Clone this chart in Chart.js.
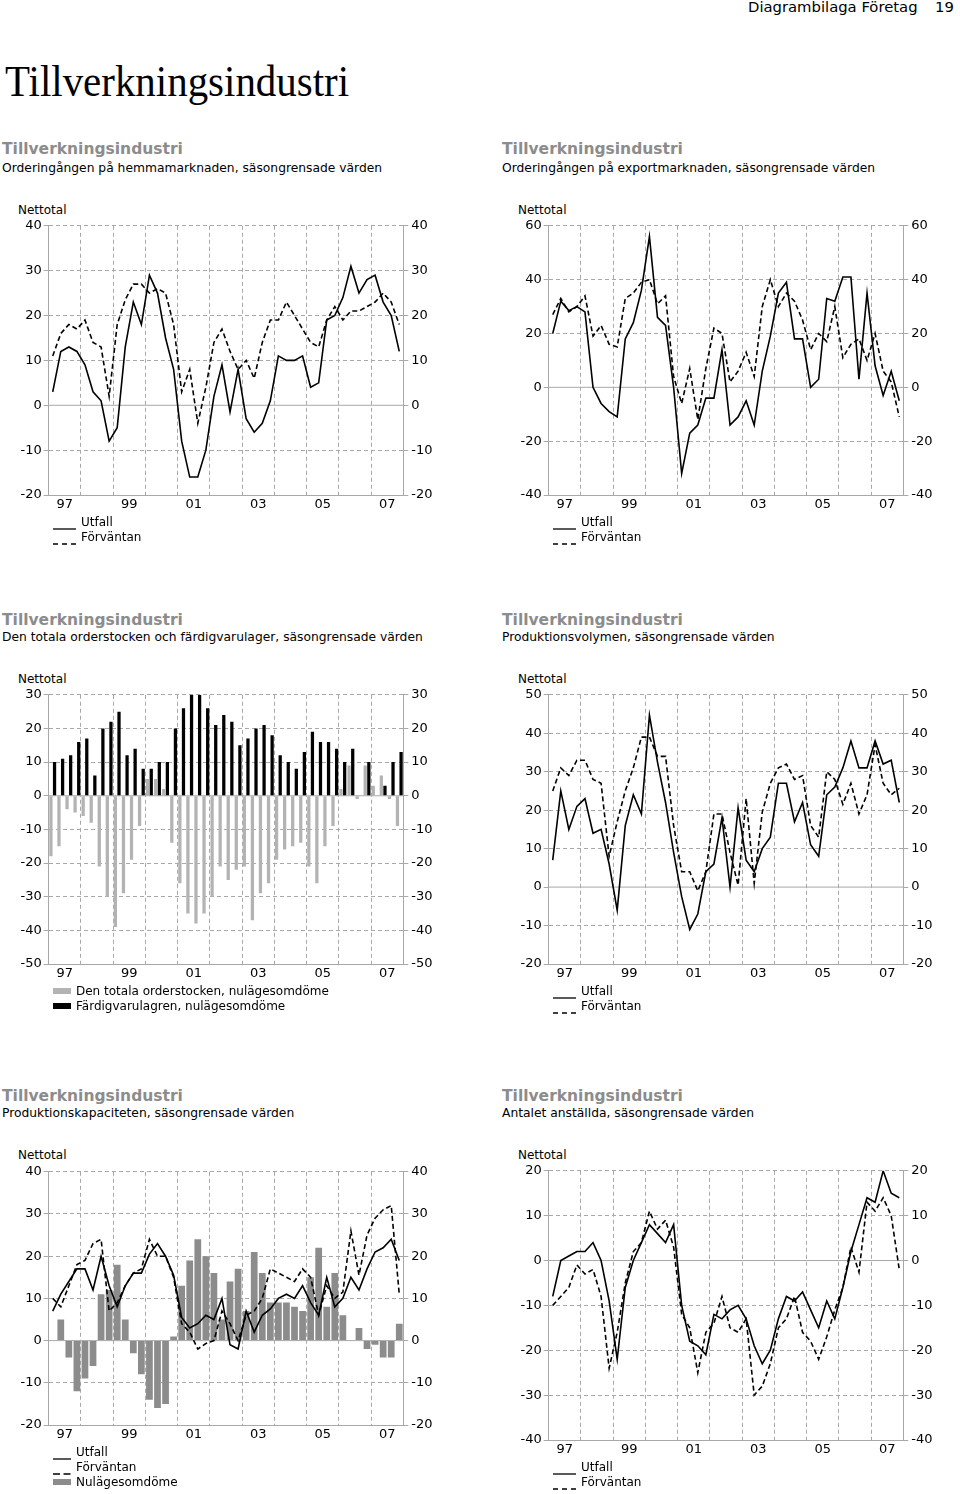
<!DOCTYPE html>
<html>
<head>
<meta charset="utf-8">
<script src="https://cdn.jsdelivr.net/npm/chart.js@4.4.0/dist/chart.umd.min.js"></script>
<style>
  body { margin: 0; width: 960px; height: 1494px; position: relative; background: #fff; overflow: hidden;
         font-family: 'DejaVu Sans', sans-serif; color: #000; }
  .t { position: absolute; white-space: nowrap; line-height: 1; }
  .head { font-size: 14.8px; }
  .big { font-family: 'Liberation Serif', serif; font-size: 44px; transform: scaleX(0.93); transform-origin: left top; }
  .sup { font-size: 15.5px; font-weight: bold; color: #8c8c8c; }
  .sub { font-size: 12.3px; }
  .small { font-size: 12px; }
  canvas { position: absolute; }
</style>
</head>
<body>

<div class="t head" style="left:748px; top:0px;">Diagrambilaga Företag</div>
<div class="t head" style="left:935px; top:0px;">19</div>
<div class="t big" style="left:5px; top:60px;">Tillverkningsindustri</div>

<div class="t sup" style="left:2px; top:142px;">Tillverkningsindustri</div>
<div class="t sub" style="left:2px; top:162px;">Orderingången på hemmamarknaden, säsongrensade värden</div>
<div class="t sup" style="left:502px; top:142px;">Tillverkningsindustri</div>
<div class="t sub" style="left:502px; top:162px;">Orderingången på exportmarknaden, säsongrensade värden</div>

<div class="t sup" style="left:2px; top:613px;">Tillverkningsindustri</div>
<div class="t sub" style="left:2px; top:631px;">Den totala orderstocken och färdigvarulager, säsongrensade värden</div>
<div class="t sup" style="left:502px; top:613px;">Tillverkningsindustri</div>
<div class="t sub" style="left:502px; top:631px;">Produktionsvolymen, säsongrensade värden</div>

<div class="t sup" style="left:2px; top:1089px;">Tillverkningsindustri</div>
<div class="t sub" style="left:2px; top:1107px;">Produktionskapaciteten, säsongrensade värden</div>
<div class="t sup" style="left:502px; top:1089px;">Tillverkningsindustri</div>
<div class="t sub" style="left:502px; top:1107px;">Antalet anställda, säsongrensade värden</div>

<div class="t small" style="left:18px; top:204px;">Nettotal</div>
<div class="t small" style="left:518px; top:204px;">Nettotal</div>
<div class="t small" style="left:18px; top:673px;">Nettotal</div>
<div class="t small" style="left:518px; top:673px;">Nettotal</div>
<div class="t small" style="left:18px; top:1149px;">Nettotal</div>
<div class="t small" style="left:518px; top:1149px;">Nettotal</div>

<canvas id="c1" width="440" height="302" style="left:0px; top:215px;"></canvas>
<canvas id="c2" width="440" height="302" style="left:500px; top:215px;"></canvas>
<canvas id="c3" width="440" height="302" style="left:0px; top:684px;"></canvas>
<canvas id="c4" width="440" height="302" style="left:500px; top:684px;"></canvas>
<canvas id="c5" width="440" height="286" style="left:0px; top:1161px;"></canvas>
<canvas id="c6" width="440" height="302" style="left:500px; top:1160px;"></canvas>

<script>
Chart.defaults.font.family = 'DejaVu Sans';
Chart.defaults.font.size = 13;
Chart.defaults.color = '#000';
Chart.defaults.animation = false;
Chart.defaults.plugins.legend.display = false;
Chart.defaults.plugins.tooltip.enabled = false;

// 1997 K1 - 2007 K4, kvartal
const years = ['1997', '1998', '1999', '2000', '2001', '2002', '2003', '2004', '2005', '2006', '2007'];
const quarters = [];
years.forEach(y => { for (let q = 1; q <= 4; q++) quarters.push(y + ' K' + q); });
const yearTicks = ['97', '99', '01', '03', '05', '07'];

// Orderingången hemmamarknaden
const hemUtfall = [3, 12, 13, 12, 9, 3, 1, -8, -5, 13, 23, 18, 29, 25, 15, 8, -8, -16, -16, -10, 2, 9, -1.5, 8,
  -3, -6, -4, 1, 11, 10, 10, 11, 4, 5, 19, 20, 24, 31, 25, 28, 29, 23, 20, 12];
const hemForv = [11, 16, 18, 17, 19, 14, 13, 2, 18, 23.5, 27, 27, 25, 26, 25, 18, 3, 8, -4, 4, 14, 17, 12, 8,
  10, 6, 14, 19, 19, 23, 20, 17, 14, 13, 19, 22, 19, 21, 21, 22, 23, 25, 23, 18];

// Orderingången exportmarknaden
const expUtfall = [20, 32, 28.5, 30, 28, 0, -6, -9, -11, 18, 24, 36, 56, 26, 23, 0, -32, -17, -14, -4, -4, 14, -14, -11,
  -5, -14, 6, 19, 35, 39, 18, 18, 0, 3, 33, 32, 41, 41, 3, 35, 8, -3, 6, -5];
const expForv = [27, 33, 28, 30, 34, 19, 23, 16, 15, 33, 35, 39, 40, 31, 34, 4, -6, 7, -12, 7, 22, 20, 2, 6,
  13, 4, 30, 40, 30, 35, 32, 25, 14, 20, 17, 30, 11, 16, 18, 10, 20, 6, 2, -11];

// Orderstock och färdigvarulager
const orderstock = [-18, -15, -4, -5, -6, -8, -21, -30, -39, -29, -19, -9, 5, 5, 2, -14, -26, -35, -38, -35, -30, -21, -25, -22,
  -21, -37, -29, -26, -19, -16, -15, -14, -21, -26, -15, -9, 2, 9, -1, 9, 3, 6, -1, -9];
const lager = [10, 11, 12, 16, 17, 6, 20, 22, 25, 12, 14, 8, 8, 10, 10, 20, 26, 30, 30, 26, 21, 24, 22, 15,
  17, 20, 21, 18, 12, 10, 8, 13, 19, 16, 16, 14, 10, 14, 0, 10, 0, 3, 10, 13];

// Produktionsvolymen
const prodUtfall = [7, 25, 15, 21, 23, 14, 15, 6, -6, 16, 24, 19, 44.7, 32.5, 22, 9, -2.5, -11, -7, 4, 6, 18, 0, 20.6,
  7, 4, 10, 13, 27, 27, 17, 22, 11, 8, 24, 26, 31, 38, 31, 31, 38, 32, 33, 22];
const prodForv = [25, 31, 29, 33, 33, 28, 27, 8, 17, 25, 31, 39, 39, 34, 34, 16, 4, 4, -1, 4, 19, 19, 9, 0.5,
  23, 1, 19.5, 27, 31, 32, 28, 29, 16, 13, 30, 28, 21.5, 27, 19, 24, 37, 27, 24, 25.7];

// Produktionskapaciteten
const kapUtfall = [7, 11, 14, 17, 17, 12, 20, 13, 8, 13, 16, 16, 20.5, 23, 20, 15.5, 5.5, 3, 4, 6, 5, 10, -1, -2,
  7, 2, 6, 7.5, 10, 11, 10, 13, 9, 6, 15, 8, 10, 15, 12, 17, 21, 22, 24, 19];
const kapForv = [10, 8, 13, 18, 19, 23, 24, 7, 9, 13, 16, 17, 24, 20, 20, 15, 4, 2, -2, -0.7, 0, 7, 4, 0,
  6, 7, 10, 17, 16, 15, 14, 17, 15, 6, 13, 10, 11.5, 26, 15.5, 25, 29, 31, 32, 11];
const kapNulage = [null, 5, -4, -12, -9, -6, 11, 12, 18, 5, -3, -8, -14, -16, -15, 1, 13, 19, 24, 20, 16, 5, 14, 17,
  7, 21, 16, 9, 9, 9, 8, 7, 15, 22, 8, 16, 6, 0, 3, -2, -1, -4, -4, 4];

// Antalet anställda
const anstUtfall = [-8, 0, 1, 2, 2, 4, 0, -9, -22, -6, 0, 4, 8, 6, 4, 8, -10, -18, -19, -21, -12, -13, -11, -10,
  -13, -19, -23, -20, -13, -8, -9, -7, -11, -15, -9, -13, -6, 2, 8, 14, 13, 20, 15, 14];
const anstForv = [-10, -8, -6, -1, -3, -2, -8, -24, -16, -5, 2, 4, 11, 7, 9, 3, -12, -15, -25, -16, -14, -8, -15, -16,
  -13, -30, -28, -23, -15, -13, -8, -16, -18, -22, -17, -11, -6, 3, -2.6, 13, 11, 14, 10, -2];

const grey = '#a8a8a8';
const none = 'rgba(0,0,0,0)';

// solid 0-line
const zeroLine = {
  id: 'zeroLine',
  beforeDatasetsDraw(chart) {
    const ctx = chart.ctx;
    const y = chart.scales.y.getPixelForValue(0);
    ctx.save();
    ctx.strokeStyle = grey;
    ctx.lineWidth = 1;
    ctx.beginPath();
    ctx.moveTo(chart.chartArea.left, y);
    ctx.lineTo(chart.chartArea.right, y);
    ctx.stroke();
    ctx.restore();
  }
};

function scalesFor(min, max, step) {
  return {
    x: {
      offset: true,
      grid: {
        offset: true,
        drawTicks: false,
        color: c => (c.index % 4 === 0 && c.index > 0 && c.index < quarters.length) ? grey : none
      },
      border: { color: grey, dash: [4, 3] },
      ticks: {
        autoSkip: false, maxRotation: 0, padding: 2, labelOffset: 4,
        callback: (v, i) => i % 8 === 1 ? yearTicks[(i - 1) / 8] : ''
      },
      afterFit: s => { s.height = 22; }
    },
    y: {
      min: min, max: max,
      ticks: { stepSize: step, padding: 2 },
      grid: {
        color: c => (c.tick && (c.tick.value === 0 || c.tick.value === min)) ? none : grey,
        tickColor: grey, tickLength: 5
      },
      border: { color: grey, dash: [4, 3] },
      afterFit: s => { s.width = 48.7; }
    },
    y2: {
      position: 'right', min: min, max: max,
      ticks: { stepSize: step, padding: 3 },
      grid: { drawOnChartArea: false, tickColor: grey, tickLength: 5 },
      border: { color: grey },
      afterFit: s => { s.width = 36.7; }
    }
  };
}

function line(label, data, dashed) {
  return {
    type: 'line', label: label, data: data,
    borderColor: '#000', borderWidth: 1.6,
    borderDash: dashed ? [5, 3] : [],
    pointRadius: 0, tension: 0, fill: false, order: 1
  };
}

function makeChart(id, datasets, min, max, step) {
  return new Chart(document.getElementById(id), {
    type: 'bar',
    data: { labels: quarters, datasets: datasets },
    options: {
      responsive: false,
      layout: { padding: { top: 10 } },
      scales: scalesFor(min, max, step)
    },
    plugins: [zeroLine]
  });
}

makeChart('c1', [line('Utfall', hemUtfall, false), line('Förväntan', hemForv, true)], -20, 40, 10);
makeChart('c2', [line('Utfall', expUtfall, false), line('Förväntan', expForv, true)], -40, 60, 20);
makeChart('c3', [
  { label: 'Den totala orderstocken, nulägesomdöme', data: orderstock, backgroundColor: '#b3b3b3',
    barPercentage: 0.9, categoryPercentage: 0.9 },
  { label: 'Färdigvarulagren, nulägesomdöme', data: lager, backgroundColor: '#000',
    barPercentage: 0.9, categoryPercentage: 0.9 }
], -50, 30, 10);
makeChart('c4', [line('Utfall', prodUtfall, false), line('Förväntan', prodForv, true)], -20, 50, 10);
makeChart('c5', [
  line('Utfall', kapUtfall, false), line('Förväntan', kapForv, true),
  { label: 'Nulägesomdöme', data: kapNulage, backgroundColor: '#8c8c8c', order: 2,
    barPercentage: 0.88, categoryPercentage: 0.95 }
], -20, 40, 10);
makeChart('c6', [line('Utfall', anstUtfall, false), line('Förväntan', anstForv, true)], -40, 20, 10);

// legends
function legend(x, y, items, w) {
  items.forEach((it, k) => {
    const cy = y + k * 15;
    const mark = document.createElement('div');
    mark.style.cssText = 'position:absolute;left:' + x + 'px;top:' + (cy - 4) + 'px;width:' + w + 'px;height:8px;';
    if (it.kind === 'box') {
      mark.innerHTML = '<div style="position:absolute;left:0;top:1px;width:' + w + 'px;height:6px;background:' + it.color + '"></div>';
    } else {
      const dash = it.kind === 'dash' ? (w > 20 ? '5 4' : '7 3.5') : 'none';
      mark.innerHTML = '<svg width="' + w + '" height="8"><line x1="0" y1="4" x2="' + w + '" y2="4" stroke="#000" stroke-width="1.3" stroke-dasharray="' + dash + '"/></svg>';
    }
    document.body.appendChild(mark);
    const t = document.createElement('div');
    t.className = 't small';
    t.style.left = (x + w + 5) + 'px';
    t.style.top = (cy - 6) + 'px';
    t.textContent = it.text;
    document.body.appendChild(t);
  });
}
const lineItems = [{ kind: 'solid', text: 'Utfall' }, { kind: 'dash', text: 'Förväntan' }];
legend(53, 522, lineItems, 23);
legend(553, 522, lineItems, 23);
legend(53, 991, [{ kind: 'box', color: '#b3b3b3', text: 'Den totala orderstocken, nulägesomdöme' },
                 { kind: 'box', color: '#000', text: 'Färdigvarulagren, nulägesomdöme' }], 18);
legend(553, 991, lineItems, 23);
legend(53, 1452, [{ kind: 'solid', text: 'Utfall' }, { kind: 'dash', text: 'Förväntan' },
                  { kind: 'box', color: '#8c8c8c', text: 'Nulägesomdöme' }], 18);
legend(553, 1467, lineItems, 23);
</script>
</body>
</html>
